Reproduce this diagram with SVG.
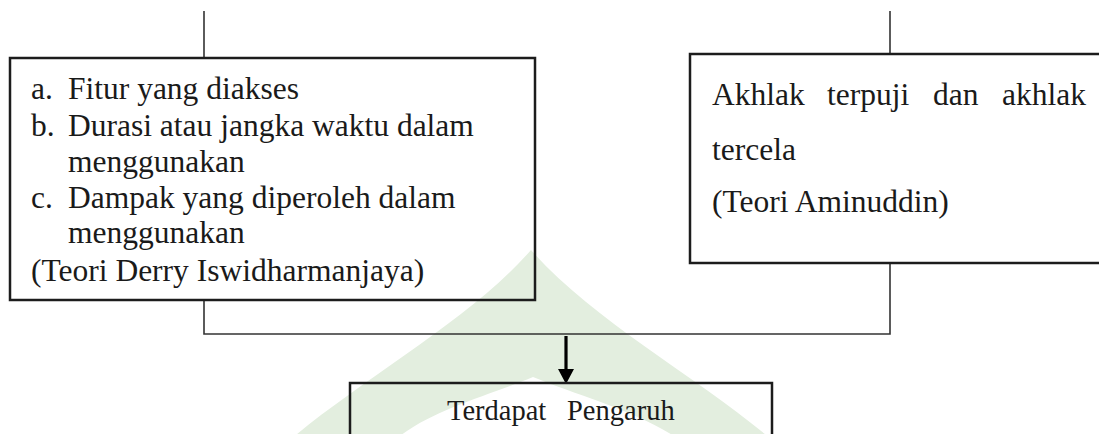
<svg xmlns="http://www.w3.org/2000/svg" width="1099" height="434" viewBox="0 0 1099 434">
<style>
.bg{fill:#ffffff}
.wm{fill:#e3eedf;fill-rule:evenodd}
.box{fill:none;stroke:#1c1c1c;stroke-width:2.5}
.conn{fill:none;stroke:#333333;stroke-width:1.6}
.arrow{fill:none;stroke:#000000;stroke-width:3.2}
.t{font-family:"Liberation Serif","Times New Roman",serif;font-size:31.5px;fill:#1a1a1a}
.ts{font-family:"Liberation Serif","Times New Roman",serif;font-size:28.5px;fill:#1a1a1a}
</style>
<defs>
<marker id="ah" markerUnits="userSpaceOnUse" markerWidth="15" markerHeight="16" viewBox="0 0 15 16" refX="0" refY="8" orient="auto">
<path d="M0,0 L15,8 L0,16 Z" fill="#000000"/>
</marker>
</defs>
<rect class="bg" x="0" y="0" width="1099" height="434"/>
<path class="wm" d="M290,440 C360,380 470,320 531,250 C592,320 702,380 772,440 Z M395,440 C430,410 490,395 533,377 C576,395 636,410 680,440 Z"/>
<g id="connectors">
<line class="conn" x1="204" y1="11" x2="204" y2="58"/>
<line class="conn" x1="890" y1="11" x2="890" y2="54"/>
<path class="conn" d="M204,300 V334 H890 V263"/>
<line class="arrow" x1="566" y1="336" x2="566" y2="369" marker-end="url(#ah)"/>
</g>
<g id="node-left">
<rect class="box" x="10" y="58" width="525" height="242"/>
<text class="t" x="31" y="99">a.</text>
<text class="t" x="68" y="99">Fitur yang diakses</text>
<text class="t" x="31" y="136">b.</text>
<text class="t" x="68" y="136">Durasi atau jangka waktu dalam</text>
<text class="t" x="68" y="172">menggunakan</text>
<text class="t" x="31" y="208">c.</text>
<text class="t" x="68" y="208">Dampak yang diperoleh dalam</text>
<text class="t" x="68" y="243">menggunakan</text>
<text class="t" x="31" y="281">(Teori Derry Iswidharmanjaya)</text>
</g>
<g id="node-right">
<rect class="box" x="690" y="54" width="420" height="209"/>
<text class="t" x="712" y="105">Akhlak</text>
<text class="t" x="827" y="105">terpuji</text>
<text class="t" x="933" y="105">dan</text>
<text class="t" x="1002" y="105">akhlak</text>
<text class="t" x="712" y="160">tercela</text>
<text class="t" x="712" y="212">(Teori Aminuddin)</text>
</g>
<g id="node-bottom">
<rect class="box" x="350" y="383" width="422" height="60"/>
<text class="ts" x="447" y="420">Terdapat</text>
<text class="ts" x="567" y="420">Pengaruh</text>
</g>
</svg>
